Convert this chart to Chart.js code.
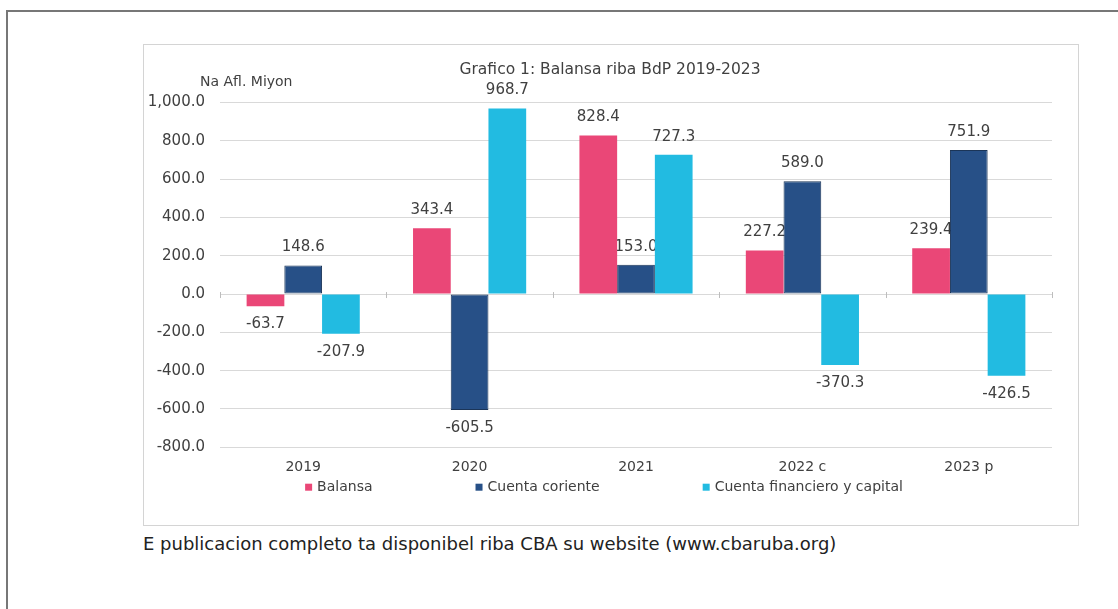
<!DOCTYPE html>
<html>
<head>
<meta charset="utf-8">
<script src="https://cdn.jsdelivr.net/npm/chart.js@4.4.1/dist/chart.umd.min.js"></script>
<style>
  body { margin: 0; background: #fff; width: 1118px; height: 609px; overflow: hidden; font-family: "DejaVu Sans", sans-serif; }
  #frame { position: absolute; left: 6px; top: 10px; width: 1200px; height: 700px; border-left: 2px solid #777; border-top: 2px solid #777; }
  #box { position: absolute; left: 143px; top: 44px; width: 934px; height: 480px; border: 1px solid #d4d4d4; }
  #wrap { position: absolute; left: 143px; top: 45px; width: 934px; height: 480px; }
  #caption { position: absolute; left: 143px; top: 533px; font-size: 18px; color: #222; }
</style>
</head>
<body>
<div id="frame"></div>
<div id="box"></div>
<div id="wrap"><canvas id="chart"></canvas></div>
<div id="caption">E publicacion completo ta disponibel riba CBA su website (www.cbaruba.org)</div>
<script>
const years = ["2019", "2020", "2021", "2022 c", "2023 p"];
const balansa = [-63.7, 343.4, 828.4, 227.2, 239.4];
const cuentaCoriente = [148.6, -605.5, 153.0, 589.0, 751.9];
const cuentaFinanciero = [-207.9, 968.7, 727.3, -370.3, -426.5];

const FONT = "DejaVu Sans";
const TEXT = "#404040";
const fmt = (v) => v.toLocaleString("en-US", { minimumFractionDigits: 1, maximumFractionDigits: 1 });

// value labels above / below each bar (drawn under the bars, like the original), small ticks on the zero line
const valueLabels = {
  id: "valueLabels",
  beforeDatasetsDraw(chart) {
    const ctx = chart.ctx;
    const xs = chart.scales.x;
    const y0 = chart.scales.y.getPixelForValue(0);
    ctx.save();
    ctx.strokeStyle = "#bdbdbd";
    ctx.lineWidth = 1;
    for (let i = 0; i <= years.length; i++) {
      const x = Math.round(xs.left + (xs.width / years.length) * i) + 0.5;
      ctx.beginPath();
      ctx.moveTo(x, y0 - 2);
      ctx.lineTo(x, y0 + 4);
      ctx.stroke();
    }
    ctx.font = "15px " + FONT;
    ctx.fillStyle = TEXT;
    ctx.textAlign = "center";
    ctx.textBaseline = "middle";
    chart.data.datasets.forEach((ds, i) => {
      chart.getDatasetMeta(i).data.forEach((bar, j) => {
        const v = ds.data[j];
        const y = v >= 0 ? bar.y - 18 : bar.y + 18;
        ctx.fillText(fmt(v), bar.x, y);
      });
    });
    ctx.restore();
  }
};

// unit label + legend row drawn under the axis
const extras = {
  id: "extras",
  afterDraw(chart) {
    const ctx = chart.ctx;
    const area = chart.chartArea;
    ctx.save();
    ctx.fillStyle = TEXT;
    ctx.textBaseline = "middle";
    ctx.font = "14px " + FONT;
    ctx.textAlign = "left";
    ctx.fillText("Na Afl. Miyon", area.left - 20, area.top - 20);

    // legend
    const box = 7, gap = 5, spacing = 103;
    const items = chart.data.datasets.map((ds) => ({ text: ds.label, color: ds.backgroundColor, w: box + gap + ctx.measureText(ds.label).width }));
    const total = items.reduce((s, it) => s + it.w, 0) + spacing * (items.length - 1);
    let x = chart.width / 2 - 6 - total / 2;
    const y = area.bottom + 40;
    items.forEach((it) => {
      ctx.fillStyle = it.color;
      ctx.fillRect(x, y - box / 2, box, box);
      ctx.fillStyle = TEXT;
      ctx.fillText(it.text, x + box + gap, y);
      x += it.w + spacing;
    });
    ctx.restore();
  }
};

new Chart(document.getElementById("chart"), {
  type: "bar",
  data: {
    labels: years,
    datasets: [
      { label: "Balansa", data: balansa, backgroundColor: "#EA4777", borderWidth: 0 },
      { label: "Cuenta coriente", data: cuentaCoriente, backgroundColor: "#275087", borderColor: "#1b3558", borderWidth: 1, borderSkipped: false },
      { label: "Cuenta financiero y capital", data: cuentaFinanciero, backgroundColor: "#22BBE1", borderWidth: 0 }
    ]
  },
  options: {
    responsive: true,
    maintainAspectRatio: false,
    animation: false,
    layout: { padding: { left: 0, right: 0, top: 0, bottom: 37 } },
    datasets: { bar: { barPercentage: 1, categoryPercentage: 0.68 } },
    scales: {
      x: {
        grid: { display: false, drawTicks: false },
        border: { display: false },
        ticks: { color: TEXT, font: { family: FONT, size: 14 }, padding: 12 }
      },
      y: {
        min: -800,
        max: 1000,
        ticks: { stepSize: 200, color: TEXT, font: { family: FONT, size: 15 }, padding: 15, callback: (v) => fmt(v) },
        grid: { color: "#d9d9d9", drawTicks: false },
        border: { display: false },
        afterFit(scale) { scale.width = 77; }
      },
      // empty right-hand axis, keeps the plot off the right edge
      side: {
        position: "right",
        display: true,
        grid: { display: false, drawTicks: false },
        border: { display: false },
        ticks: { display: false },
        afterFit(scale) { scale.width = 25; }
      }
    },
    plugins: {
      title: {
        display: true,
        text: "Grafico 1: Balansa riba BdP 2019-2023",
        color: TEXT,
        font: { family: FONT, size: 15.5, weight: "normal" },
        padding: { top: 16, bottom: 23 }
      },
      legend: { display: false },
      tooltip: { enabled: false }
    }
  },
  plugins: [valueLabels, extras]
});
</script>
</body>
</html>
